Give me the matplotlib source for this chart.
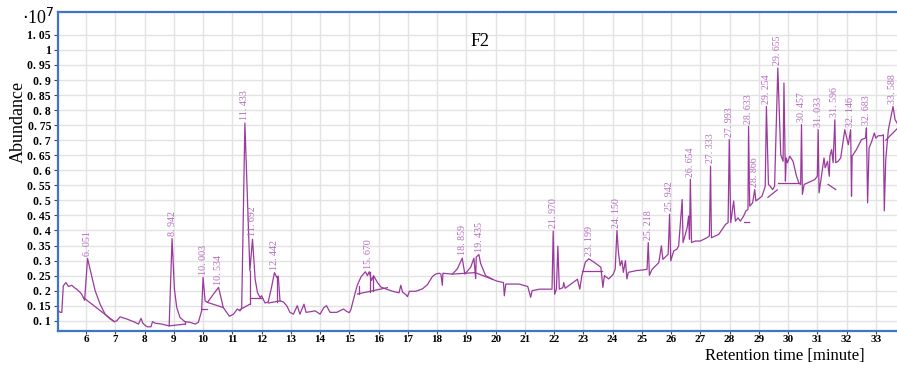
import numpy as np
import matplotlib
matplotlib.use("Agg")
import matplotlib.pyplot as plt

# chromatogram trace (retention time [min], abundance [x1e7])
rt = [5.05, 5.12, 5.17, 5.22, 5.31, 5.40, 5.51, 5.60, 5.68, 5.80, 5.85, 5.91, 5.95,
      6.05, 6.19, 6.31, 6.48, 6.65, 6.82, 6.97, 7.05, 7.16, 7.39, 7.67, 7.79, 7.88,
      7.94, 8.04, 8.10, 8.22, 8.27, 8.36, 8.59, 8.84, 8.94, 9.02, 9.10, 9.21, 9.38,
      9.55, 9.73, 9.84, 9.95, 10.00, 10.07, 10.15, 10.35, 10.53, 10.69, 10.90, 11.04,
      11.17, 11.26, 11.32, 11.43, 11.60, 11.69, 11.78, 11.86, 11.95, 12.00, 12.12,
      12.23, 12.35, 12.44, 12.52, 12.57, 12.63, 12.74, 12.86, 12.97, 13.09, 13.22,
      13.31, 13.45, 13.52, 13.66, 13.83, 14.00, 14.13, 14.22, 14.34, 14.57, 14.80,
      14.91, 15.00, 15.05, 15.23, 15.28, 15.40, 15.55, 15.62, 15.68, 15.76, 15.83,
      15.97, 16.08, 16.30, 16.48, 16.70, 16.76, 16.82, 16.93, 16.99, 17.05, 17.27,
      17.50, 17.67, 17.84, 17.95, 18.07, 18.13, 18.18, 18.20, 18.52, 18.69, 18.86,
      18.95, 19.15, 19.26, 19.32, 19.34, 19.43, 19.49, 19.66, 19.89, 20.04, 20.27,
      20.30, 20.35, 20.80, 21.10, 21.20, 21.25, 21.50, 21.93, 21.97, 22.02, 22.08,
      22.13, 22.18, 22.30, 22.33, 22.38, 22.80, 22.88, 22.95, 23.07, 23.19, 23.36,
      23.53, 23.60, 23.67, 23.72, 23.87, 23.98, 24.03, 24.09, 24.15, 24.20, 24.26,
      24.32, 24.37, 24.44, 24.49, 24.54, 24.83, 25.05, 25.18, 25.22, 25.26, 25.35,
      25.58, 25.67, 25.72, 25.90, 25.95, 25.99, 26.09, 26.20, 26.26, 26.38, 26.41,
      26.55, 26.60, 26.63, 26.66, 26.70, 26.83, 27.00, 27.23, 27.31, 27.35, 27.38,
      27.63, 27.86, 27.95, 27.99, 28.04, 28.14, 28.20, 28.29, 28.37, 28.48, 28.56,
      28.63, 28.65, 28.69, 28.79, 28.86, 28.90, 29.11, 29.22, 29.26, 29.33, 29.39,
      29.47, 29.54, 29.65, 29.75, 29.83, 29.86, 29.91, 29.94, 29.98, 30.06, 30.17,
      30.29, 30.37, 30.43, 30.46, 30.49, 30.55, 30.66, 30.80, 30.91, 31.00, 31.03,
      31.06, 31.14, 31.23, 31.27, 31.35, 31.41, 31.43, 31.49, 31.54, 31.60, 31.63,
      31.71, 31.80, 31.94, 32.06, 32.14, 32.17, 32.19, 32.34, 32.51, 32.65, 32.68,
      32.72, 32.77, 32.86, 32.95, 33.00, 33.09, 33.20, 33.26, 33.29, 33.34, 33.43,
      33.57, 33.59, 33.66, 33.80]
abundance = [0.133, 0.128, 0.128, 0.216, 0.227, 0.214, 0.218, 0.210, 0.205, 0.194, 0.188, 0.177, 0.168,
             0.307, 0.249, 0.200, 0.155, 0.122, 0.106, 0.097, 0.100, 0.113, 0.106, 0.095, 0.089, 0.108,
             0.092, 0.083, 0.080, 0.080, 0.097, 0.092, 0.089, 0.083, 0.373, 0.205, 0.144, 0.111, 0.097,
             0.095, 0.089, 0.095, 0.133, 0.244, 0.166, 0.161, 0.188, 0.211, 0.144, 0.115, 0.122,
             0.139, 0.133, 0.141, 0.757, 0.266, 0.371, 0.238, 0.194, 0.177, 0.183, 0.159,
             0.163, 0.216, 0.260, 0.244, 0.249, 0.166, 0.163, 0.150, 0.128, 0.122, 0.150,
             0.122, 0.155, 0.128, 0.130, 0.133, 0.122, 0.144, 0.150, 0.128, 0.128, 0.139,
             0.131, 0.127, 0.136, 0.204, 0.220, 0.246, 0.263, 0.250, 0.263, 0.234, 0.250,
             0.226, 0.212, 0.204, 0.198, 0.193, 0.218, 0.195, 0.187, 0.180, 0.198, 0.198,
             0.206, 0.220, 0.247, 0.255, 0.258, 0.255, 0.218, 0.258, 0.255, 0.272, 0.308,
             0.255, 0.278, 0.308, 0.240, 0.312, 0.320, 0.290, 0.250, 0.238, 0.232, 0.227,
             0.183, 0.222, 0.222, 0.214, 0.178, 0.200, 0.205, 0.205, 0.398, 0.188, 0.205,
             0.348, 0.205, 0.210, 0.227, 0.208, 0.238, 0.205, 0.250, 0.295, 0.306, 0.295,
             0.283, 0.278, 0.211, 0.250, 0.239, 0.250, 0.256, 0.272, 0.400, 0.328, 0.283,
             0.300, 0.261, 0.300, 0.239, 0.261, 0.267, 0.269, 0.271, 0.360, 0.251, 0.271,
             0.293, 0.349, 0.304, 0.321, 0.454, 0.299, 0.332, 0.338, 0.349, 0.503, 0.360,
             0.409, 0.448, 0.371, 0.570, 0.360, 0.365, 0.365, 0.376, 0.382, 0.614, 0.376,
             0.387, 0.420, 0.426, 0.702, 0.426, 0.498, 0.431, 0.442, 0.431, 0.448, 0.465,
             0.470, 0.746, 0.481, 0.492, 0.536, 0.498, 0.514, 0.547, 0.812, 0.553, 0.547,
             0.536, 0.547, 0.940, 0.652, 0.630, 0.890, 0.564, 0.641, 0.625, 0.647, 0.630,
             0.580, 0.558, 0.553, 0.752, 0.520, 0.553, 0.558, 0.564, 0.569, 0.580, 0.735,
             0.525, 0.580, 0.641, 0.608, 0.630, 0.580, 0.647, 0.669, 0.625, 0.768, 0.625,
             0.630, 0.641, 0.735, 0.685, 0.735, 0.514, 0.647, 0.669, 0.702, 0.707, 0.741,
             0.492, 0.674, 0.696, 0.724, 0.707, 0.715, 0.715, 0.718, 0.465, 0.636, 0.735,
             0.801, 0.812, 0.768, 0.745]

# integration baselines and drop lines: (rt0, y0, rt1, y1)
baselines = [
    (5.91, 0.177, 6.97, 0.097),
    (8.84, 0.083, 9.38, 0.089),
    (9.38, 0.089, 9.38, 0.097),
    (9.95, 0.139, 10.15, 0.139),
    (10.15, 0.161, 10.69, 0.144),
    (11.26, 0.137, 11.60, 0.155),
    (11.60, 0.155, 11.60, 0.266),
    (11.60, 0.174, 12.00, 0.174),
    (12.23, 0.159, 12.63, 0.166),
    (12.54, 0.163, 12.54, 0.244),
    (15.28, 0.189, 16.30, 0.210),
    (15.32, 0.190, 15.32, 0.215),
    (15.70, 0.196, 15.70, 0.262),
    (15.80, 0.199, 15.80, 0.245),
    (18.52, 0.255, 19.30, 0.260),
    (19.30, 0.260, 19.89, 0.238),
    (22.95, 0.267, 23.65, 0.267),
    (28.48, 0.428, 28.65, 0.428),
    (29.31, 0.510, 29.63, 0.535),
    (29.65, 0.558, 30.40, 0.558),
    (31.37, 0.553, 31.63, 0.536),
    (33.34, 0.700, 33.80, 0.745),
]

peak_rt = [6.051, 8.942, 10.003, 10.534, 11.433, 11.692, 12.442, 15.670, 18.859, 19.435,
           21.970, 23.199, 24.150, 25.218, 25.942, 26.654, 27.333, 27.993, 28.633, 28.866,
           29.254, 29.655, 30.457, 31.033, 31.596, 32.146, 32.683, 33.588]
peak_top = [0.307, 0.373, 0.244, 0.211, 0.757, 0.371, 0.260, 0.263, 0.308, 0.320,
            0.398, 0.306, 0.400, 0.360, 0.454, 0.570, 0.614, 0.702, 0.746, 0.536,
            0.812, 0.940, 0.752, 0.735, 0.768, 0.735, 0.741, 0.812]

yticks = np.arange(0.10, 1.051, 0.05)
xticks = np.arange(6, 34)

line_col = "#9B3A9E"
label_col = "#B36CBE"
frame_col = "#3F74C6"

plt.rcParams['font.family'] = ['Liberation Serif', 'DejaVu Serif']

fig = plt.figure(figsize=(8.97, 3.65), dpi=100)
# plot area runs past the right edge of the picture (cropped screenshot)
ax = fig.add_axes([58 / 897, 1 - 331 / 365, 845 / 897, 319 / 365])

ax.plot(rt, abundance, color=line_col, lw=0.9, zorder=3)
for x0, y0, x1, y1 in baselines:
    ax.plot([x0, x1], [y0, y1], color=line_col, lw=0.9, zorder=3)

for r, top in zip(peak_rt, peak_top):
    txt = f"{r:.3f}".replace(".", ". ")
    ax.annotate(txt, (r, top), xytext=(0, 2), textcoords="offset points",
                rotation=90, ha="center", va="bottom", fontsize=7.2,
                color=label_col, annotation_clip=False, zorder=4)

ax.set_xlim(5.04, 33.93)
ax.set_ylim(0.066, 1.126)
ax.set_xticks(xticks)
ax.set_xticklabels([str(v) for v in xticks], fontweight="bold", fontsize=8)
ax.set_yticks(yticks)
ylab = []
for v in yticks:
    s = f"{v:.2f}".rstrip("0").rstrip(".")
    ylab.append(s.replace(".", ". "))
ax.set_yticklabels(ylab, fontweight="bold", fontsize=8.5)
ax.tick_params(axis="both", length=3, width=0.8, color="#444444", pad=2)
ax.tick_params(axis="x", length=2, pad=1)

ax.grid(True, color="#E3E3E3", lw=1.0, zorder=0)
ax.set_axisbelow(True)
for side in ["top", "left", "bottom"]:
    ax.spines[side].set_color(frame_col)
    ax.spines[side].set_linewidth(1.6)
ax.spines["right"].set_visible(False)

ax.text(480 / 897, 1 - 42 / 365, "F2", transform=fig.transFigure, ha="center", va="center", fontsize=13)
fig.text(22 / 897, 1 - 18 / 365, r"$\cdot$10$^7$", ha="left", va="center", fontsize=13)
fig.text(18 / 897, 1 - 122 / 365, "Abundance", rotation=90, ha="center", va="center", fontsize=13)
fig.text(785 / 897, 1 - 364.5 / 365, "Retention time [minute]", ha="center", va="bottom", fontsize=12)

fig.savefig("out.png", dpi=100)
